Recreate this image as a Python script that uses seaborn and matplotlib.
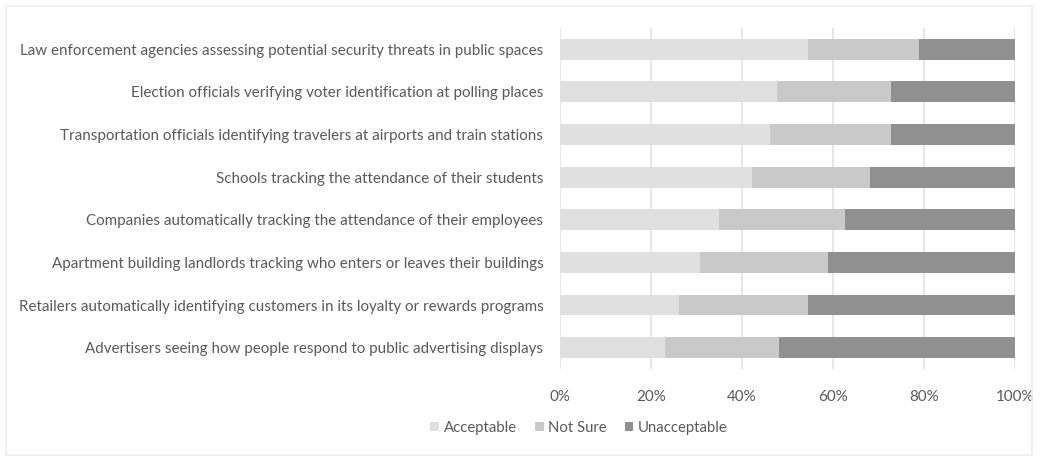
import pandas as pd
import seaborn as sns
import matplotlib.pyplot as plt
from matplotlib.patches import Rectangle, Patch

# Data (percent of respondents)
uses = [
    'Law enforcement agencies assessing potential security threats in public spaces',
    'Election officials verifying voter identification at polling places',
    'Transportation officials identifying travelers at airports and train stations',
    'Schools tracking the attendance of their students',
    'Companies automatically tracking the attendance of their employees',
    'Apartment building landlords tracking who enters or leaves their buildings',
    'Retailers automatically identifying customers in its loyalty or rewards programs',
    'Advertisers seeing how people respond to public advertising displays',
]
acceptable = [54.6, 47.7, 46.2, 42.3, 34.9, 30.8, 26.2, 23.1]
not_sure = [24.2, 25.0, 26.5, 25.8, 27.8, 28.2, 28.3, 25.0]
unacceptable = [21.2, 27.3, 27.3, 31.9, 37.3, 41.0, 45.5, 51.9]

series = ['Acceptable', 'Not Sure', 'Unacceptable']
colors = ['#e0e0e0', '#c9c9c9', '#909090']
text_color = '#595959'

df = pd.DataFrame({'use': uses, 'Acceptable': acceptable,
                   'Not Sure': not_sure, 'Unacceptable': unacceptable})
# cumulative ends for stacking (drawn back to front)
df['end_acc'] = df['Acceptable']
df['end_ns'] = df['Acceptable'] + df['Not Sure']
df['end_un'] = df['end_ns'] + df['Unacceptable']

sns.set_style('white')
plt.rcParams['font.family'] = ['Lato', 'DejaVu Sans']

fig = plt.figure(figsize=(10.5, 4.61), dpi=100)
ax = fig.add_axes([0.5333, 0.1996, 0.4334, 0.7397])

for col, c in zip(['end_un', 'end_ns', 'end_acc'], colors[::-1]):
    sns.barplot(data=df, y='use', x=col, orient='h', color=c, width=0.49,
                saturation=1, linewidth=0, ax=ax)

ax.set_xlim(0, 100)
ax.set_ylim(7.5, -0.5)
ax.set_xticks(range(0, 101, 20))
ax.set_xticklabels([f'{t}%' for t in range(0, 101, 20)])
ax.xaxis.grid(True, color='#e3e3e3', linewidth=1.2)
ax.set_axisbelow(True)
ax.set_xlabel('')
ax.set_ylabel('')
for s in ax.spines.values():
    s.set_visible(False)
ax.tick_params(axis='both', length=0, labelsize=10.9, colors=text_color)
ax.tick_params(axis='y', pad=12)
ax.tick_params(axis='x', pad=15)

handles = [Patch(facecolor=c, edgecolor='none') for c in colors]
fig.legend(handles, series, loc='center', bbox_to_anchor=(579 / 1050, 1 - 428 / 461),
           ncol=3, frameon=False, handlelength=0.6, handleheight=0.6,
           handletextpad=0.3, columnspacing=1.2, labelcolor=text_color,
           prop={'size': 10.7})

# light frame around the whole chart
fig.patches.append(Rectangle((6 / 1050, 1 - 455 / 461), 1026 / 1050, 449 / 461,
                             transform=fig.transFigure, fill=False,
                             edgecolor='#ececec', linewidth=1.2))

fig.savefig('out.png', dpi=100)
